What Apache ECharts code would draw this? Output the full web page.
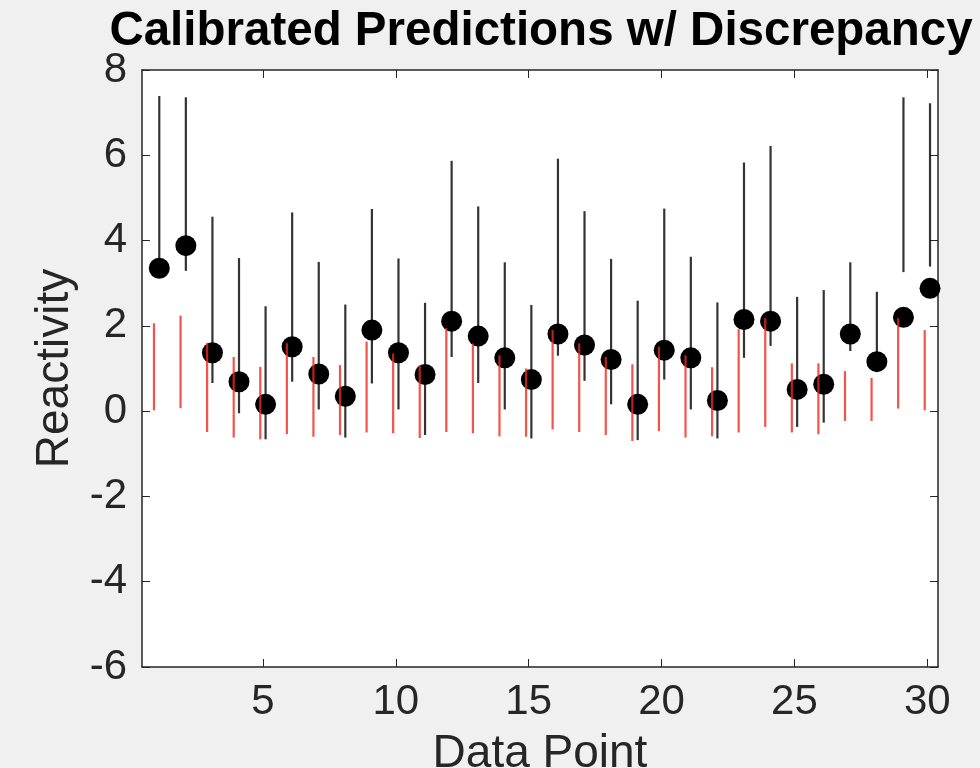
<!DOCTYPE html>
<html><head><meta charset="utf-8">
<script src="https://cdn.jsdelivr.net/npm/echarts@6/dist/echarts.min.js"></script>
<style>html,body{margin:0;padding:0;background:#f0f0f0}#c{width:980px;height:768px}</style>
</head><body><div id="c"></div>
<script>
// ---- data ----
const pointIds  = [1,2,3,4,5,6,7,8,9,10,11,12,13,14,15,16,17,18,19,20,21,22,23,24,25,26,27,28,29,30];
const predMean  = [3.35,3.88,1.37,0.69,0.16,1.51,0.87,0.35,1.90,1.37,0.86,2.11,1.76,1.25,0.74,1.81,1.55,1.21,0.16,1.43,1.25,0.25,2.15,2.11,0.51,0.63,1.81,1.16,2.20,2.88];
const predLow   = [3.30,3.29,0.66,-0.05,-0.66,0.69,0.04,-0.62,0.65,0.04,-0.56,1.27,0.66,0.04,-0.64,1.30,0.71,0.16,-0.68,0.74,0.04,-0.64,1.25,1.53,-0.37,-0.27,1.41,0.95,3.26,3.39];
const predHigh  = [7.39,7.36,4.56,3.59,2.46,4.66,3.50,2.50,4.74,3.58,2.54,5.87,4.80,3.49,2.49,5.92,4.69,3.57,2.59,4.75,3.62,2.55,5.83,6.22,2.68,2.84,3.49,2.80,7.36,7.22];
const discLow   = [0.02,0.07,-0.49,-0.62,-0.66,-0.54,-0.60,-0.56,-0.50,-0.52,-0.63,-0.49,-0.52,-0.59,-0.60,-0.43,-0.49,-0.56,-0.70,-0.47,-0.62,-0.59,-0.50,-0.37,-0.50,-0.54,-0.23,-0.23,0.06,0.02];
const discHigh  = [2.06,2.24,1.60,1.27,1.04,1.59,1.27,1.08,1.63,1.35,1.08,1.95,1.59,1.31,1.00,1.90,1.59,1.27,1.10,1.51,1.31,1.03,1.92,2.18,1.12,1.12,0.94,0.78,2.18,1.90];
const xTickValues = [5,10,15,20,25,30];
const yTickMin = -6, yTickMax = 8, yTickStep = 2;

// ---- styling constants ----
const OFFSET = 0.1;
const AX = '#262626';
const FONT = "'Liberation Sans', Arial, Helvetica, sans-serif";

const predBars = pointIds.map((p, i) => [p + OFFSET, predLow[i], predHigh[i]]);
const discBars = pointIds.map((p, i) => [p - OFFSET, discLow[i], discHigh[i]]);
const dots = pointIds.map((p, i) => [p + OFFSET, predMean[i]]);

function vbar(color, width) {
  return function (params, api) {
    const x = api.value(0);
    const a = api.coord([x, api.value(1)]);
    const b = api.coord([x, api.value(2)]);
    return { type: 'line', shape: { x1: a[0], y1: a[1], x2: b[0], y2: b[1] },
             style: { stroke: color, lineWidth: width } };
  };
}

const chart = echarts.init(document.getElementById('c'));
const xBase = { type: 'value', min: 0.45, max: 30.4, splitLine: { show: false },
  axisLine: { show: true, onZero: false, lineStyle: { color: AX, width: 1.5 } } };
const yBase = { type: 'value', min: yTickMin, max: yTickMax, interval: yTickStep, splitLine: { show: false },
  axisLine: { show: true, onZero: false, lineStyle: { color: AX, width: 1.5 } } };

chart.setOption({
  backgroundColor: '#f0f0f0',
  animation: false,
  title: { text: 'Calibrated Predictions w/ Discrepancy', left: 536, top: 3, textAlign: 'center',
    textStyle: { fontFamily: FONT, fontWeight: 'bold', fontSize: 47.5, color: '#000' } },
  grid: { left: 142, right: 42, top: 70, bottom: 101, show: true, backgroundColor: '#fff', borderWidth: 0,
    containLabel: false, outerBoundsMode: 'none' },
  xAxis: [
    Object.assign({}, xBase, { position: 'bottom', name: 'Data Point', nameLocation: 'middle', nameGap: 64,
      nameTextStyle: { fontFamily: FONT, fontSize: 46, color: AX },
      axisTick: { show: true, inside: true, length: 8, lineStyle: { color: AX }, customValues: xTickValues },
      axisLabel: { show: true, margin: 14, fontFamily: FONT, fontSize: 42, color: AX, customValues: xTickValues } }),
    Object.assign({}, xBase, { position: 'top',
      axisTick: { show: true, inside: true, length: 8, lineStyle: { color: AX }, customValues: xTickValues },
      axisLabel: { show: false } })
  ],
  yAxis: [
    Object.assign({}, yBase, { position: 'left', name: 'Reactivity', nameLocation: 'middle', nameGap: 62,
      nameTextStyle: { fontFamily: FONT, fontSize: 46, color: AX },
      axisTick: { show: true, inside: true, length: 8, lineStyle: { color: AX } },
      axisLabel: { show: true, margin: 15, fontFamily: FONT, fontSize: 42, color: AX } }),
    Object.assign({}, yBase, { position: 'right',
      axisTick: { show: true, inside: true, length: 8, lineStyle: { color: AX } },
      axisLabel: { show: false } })
  ],
  series: [
    { type: 'custom', xAxisIndex: 0, yAxisIndex: 0, data: predBars, renderItem: vbar('rgba(0,0,0,0.8)', 2.2),
      encode: { x: 0, y: [1, 2] }, z: 2 },
    { type: 'scatter', xAxisIndex: 0, yAxisIndex: 0, data: dots, symbol: 'circle', symbolSize: 21, clip: false,
      itemStyle: { color: '#000', opacity: 1 }, z: 3 },
    { type: 'custom', xAxisIndex: 0, yAxisIndex: 0, data: discBars, renderItem: vbar('rgba(240,40,30,0.8)', 2.2),
      encode: { x: 0, y: [1, 2] }, z: 4 }
  ]
});
</script>
</body></html>
